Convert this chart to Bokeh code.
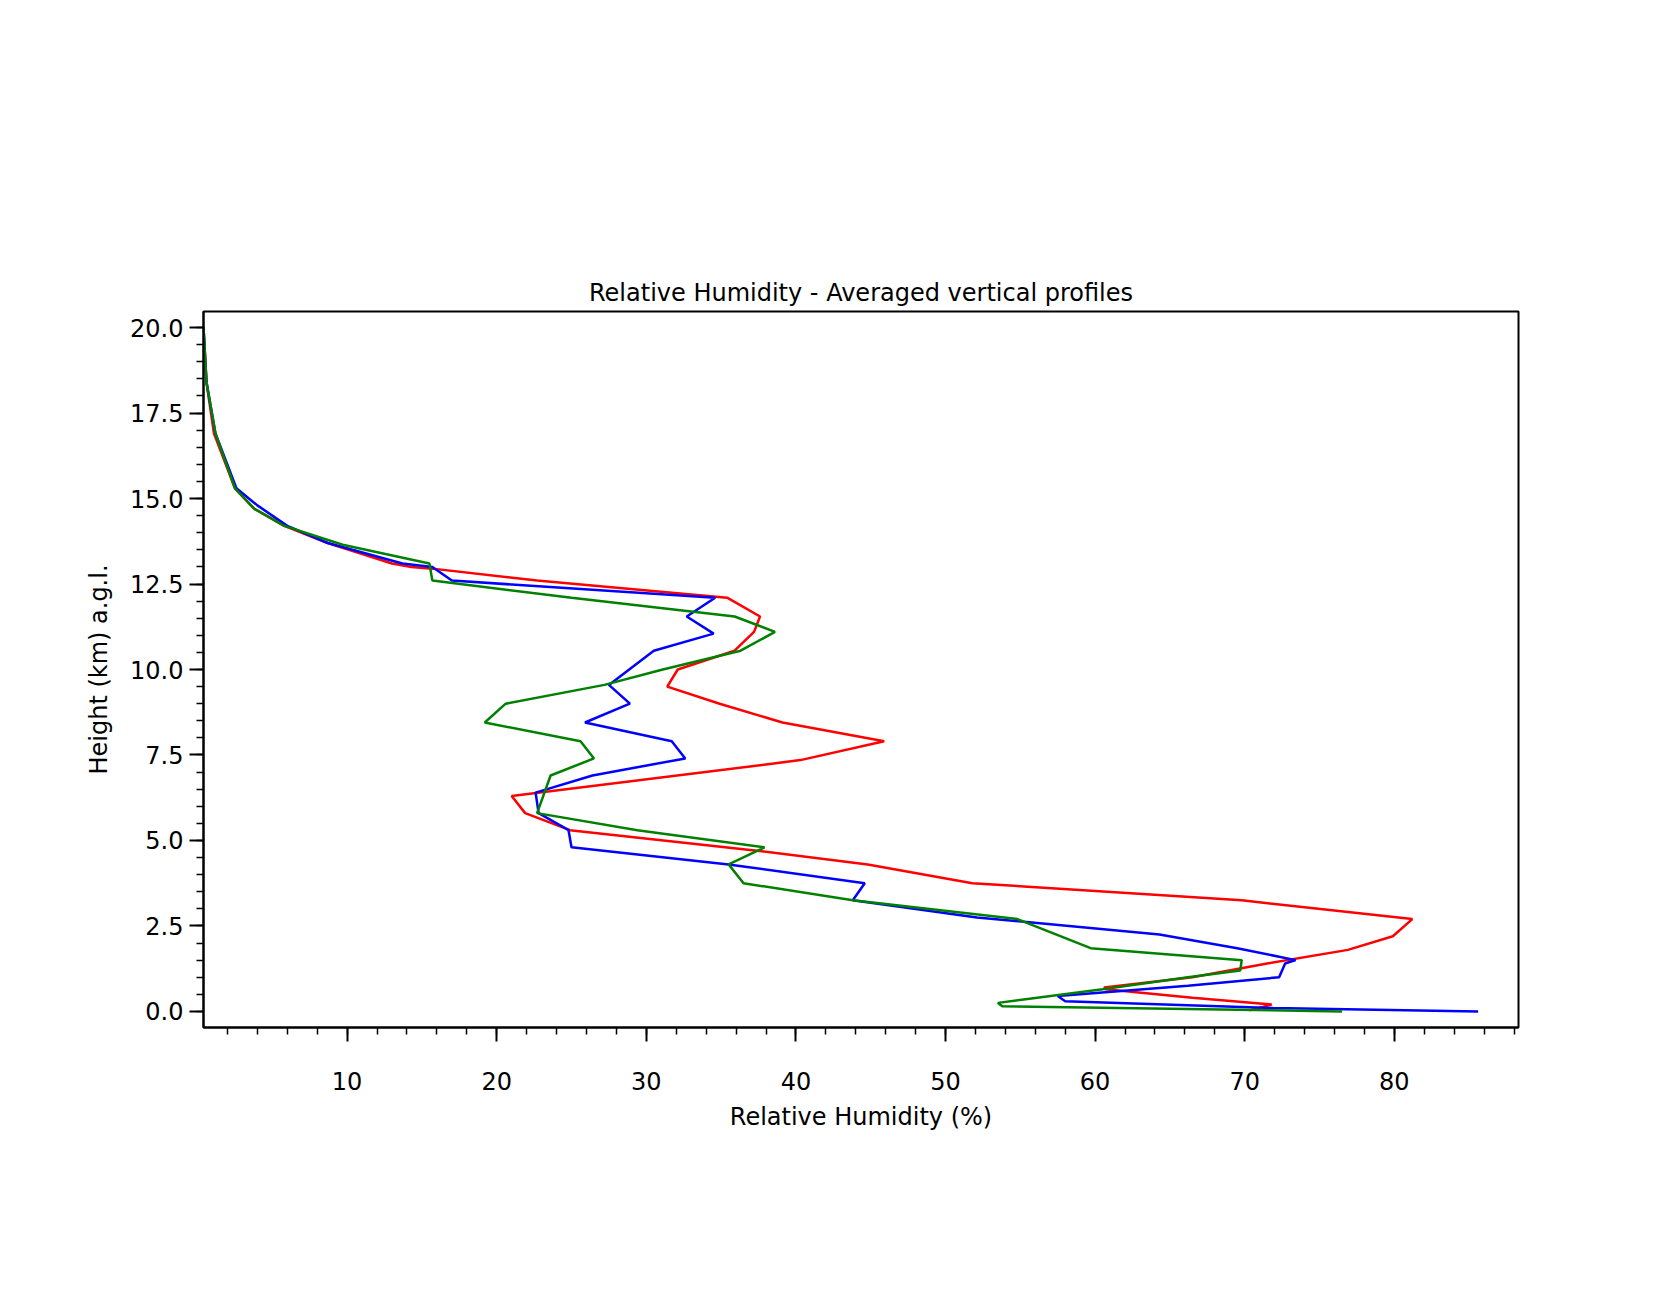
from bokeh.plotting import figure
from bokeh.models import Legend, LegendItem, Label, SingleIntervalTicker, Range1d, PrintfTickFormatter
from bokeh.embed import file_html
from bokeh.resources import INLINE

red_x = [0.4,0.6,1.1,2.5,3.8,5.8,8.7,13.0,14.3,15.7,22.7,35.4,37.6,37.2,35.9,32.1,31.4,34.9,39.1,45.9,40.3,21.0,21.9,24.9,37.4,44.8,51.8,69.8,81.2,79.9,76.9,71.5,66.5,60.6,60.7,66.5,71.8,70.3]
red_y = [20,18.4,16.9,15.3,14.7,14.2,13.7,13.1,13.0,12.95,12.6,12.1,11.55,11.1,10.55,10.0,9.5,9.0,8.45,7.9,7.35,6.3,5.8,5.3,4.7,4.3,3.75,3.25,2.7,2.2,1.8,1.4,1.0,0.7,0.65,0.4,0.2,0.03]
blue_x = [0.4,0.6,1.2,2.6,4.0,6.0,8.7,13.7,15.7,17.0,34.6,32.7,34.5,30.5,27.5,28.9,25.9,31.7,32.6,26.4,22.6,22.8,24.8,25.0,35.5,44.6,43.8,52.1,64.3,69.5,73.4,72.7,72.3,66.2,57.5,58.0,71.9,85.6]
blue_y = [20,18.4,16.9,15.3,14.8,14.2,13.7,13.1,13.0,12.6,12.1,11.55,11.05,10.55,9.55,9.0,8.45,7.9,7.4,6.9,6.4,5.8,5.3,4.8,4.3,3.75,3.25,2.75,2.25,1.85,1.5,1.4,1.0,0.75,0.45,0.3,0.1,0.0]
green_x = [0.4,0.6,1.2,2.5,3.8,5.8,9.7,15.5,15.7,25.0,35.9,38.6,36.3,31.1,27.2,20.6,19.2,25.6,26.5,23.6,22.7,29.4,37.9,35.5,36.5,43.8,54.8,59.7,69.8,69.7,66.2,60.5,53.5,53.8,76.5]
green_y = [20,18.4,16.9,15.3,14.7,14.2,13.65,13.1,12.6,12.1,11.55,11.1,10.55,10.0,9.55,9.0,8.45,7.9,7.4,6.9,5.8,5.3,4.8,4.3,3.75,3.25,2.7,1.85,1.5,1.2,1.0,0.65,0.25,0.15,0.0]
labels = ["3:44-6:10 UT - 3:44-6:10 MST", "6:10-8:50 UT - 6:10-8:50 MST", "8:50-11:03 UT - 8:50-11:03 MST"]
date_text = "2026/08/10"

F = "DejaVu Sans"
p = figure(frame_width=1315, frame_height=716, min_border_left=203, min_border_top=311,
           min_border_bottom=240, min_border_right=130, output_backend="svg", toolbar_location=None,
           x_range=Range1d(0.4, 88.3), y_range=Range1d(-0.47, 20.47))
p.title.text = "Relative Humidity - Averaged vertical profiles"
p.title.align = "center"; p.title.text_font = F; p.title.text_font_size = "24px"; p.title.text_font_style = "normal"
p.title.text_color = "black"
p.grid.visible = False
p.outline_line_color = "black"; p.outline_line_width = 2
for ax in (p.xaxis[0], p.yaxis[0]):
    ax.axis_label_text_font = F; ax.axis_label_text_font_size = "24px"; ax.axis_label_text_font_style = "normal"
    ax.major_label_text_font = F; ax.major_label_text_font_size = "24px"
    ax.axis_label_text_color = "black"; ax.major_label_text_color = "black"
    ax.major_tick_out = 14; ax.major_tick_in = 0; ax.minor_tick_out = 7; ax.minor_tick_in = 0
    ax.major_tick_line_width = 2; ax.minor_tick_line_width = 1.5; ax.axis_line_width = 2
p.xaxis.axis_label = "Relative Humidity (%)"
p.yaxis.axis_label = "Height (km) a.g.l."
p.xaxis.ticker = SingleIntervalTicker(interval=10, num_minor_ticks=5)
p.yaxis.ticker = SingleIntervalTicker(interval=2.5, num_minor_ticks=5)
p.yaxis.formatter = PrintfTickFormatter(format="%.1f")
p.xaxis.major_label_standoff = 30
p.yaxis.major_label_standoff = 6
p.xaxis.axis_label_standoff = 10
p.yaxis.axis_label_standoff = 14
p.xaxis.major_label_overrides = {0: ""}

r1 = p.line(red_x, red_y, color="red", line_width=2.5)
r2 = p.line(blue_x, blue_y, color="blue", line_width=2.5)
r3 = p.line(green_x, green_y, color="green", line_width=2.5)
leg = Legend(items=[LegendItem(label=labels[0], renderers=[r1]), LegendItem(label=labels[1], renderers=[r2]),
                    LegendItem(label=labels[2], renderers=[r3])],
             location=(17, 806), label_text_font=F, label_text_font_size="27px",
             glyph_width=75, label_standoff=25, spacing=16, padding=12,
             border_line_color="#cccccc", border_line_width=2, background_fill_alpha=1)
p.add_layout(leg, "center")
p.add_layout(Label(x=0.4, y=-3.55, text=date_text, text_font=F, text_font_size="29px", text_color="black"))
open("out.html", "w").write(file_html(p, INLINE))
